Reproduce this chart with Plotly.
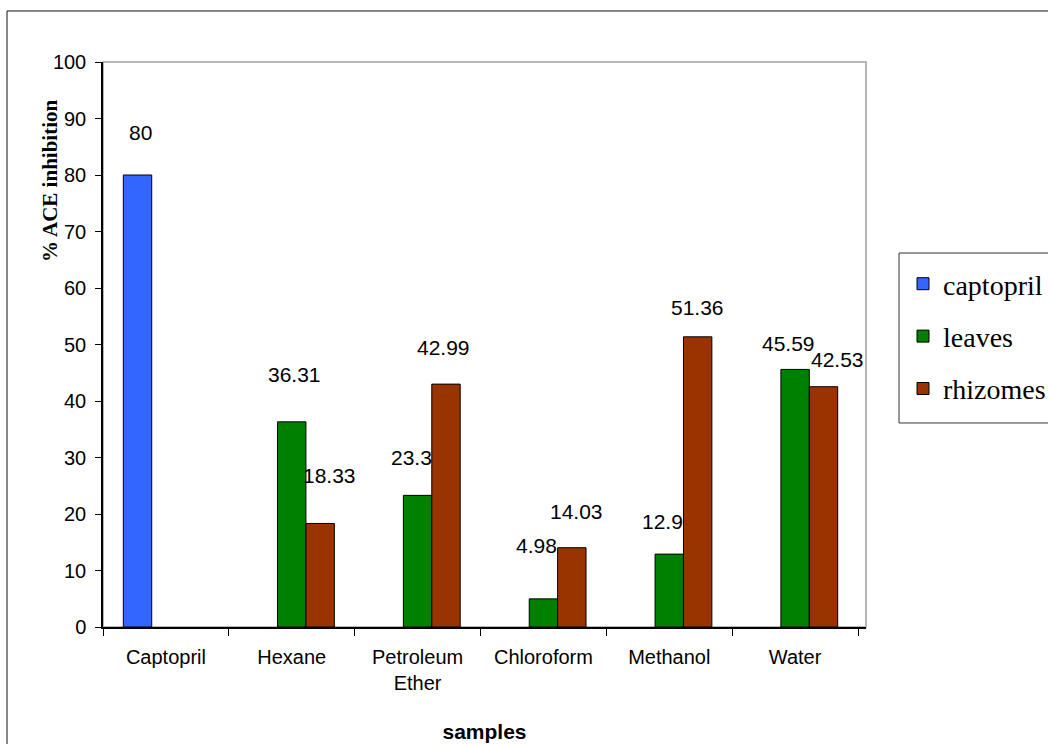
import plotly.graph_objects as go

# Samples and % ACE inhibition values
samples = ["Captopril", "Hexane", "Petroleum<br>Ether", "Chloroform", "Methanol", "Water"]
captopril = [80, None, None, None, None, None]
leaves = [None, 36.31, 23.3, 4.98, 12.9, 45.59]
rhizomes = [None, 18.33, 42.99, 14.03, 51.36, 42.53]

series = [
    ("captopril", captopril, "#3366FF"),
    ("leaves", leaves, "#008000"),
    ("rhizomes", rhizomes, "#993300"),
]

# Pixel nudges (dx, dy) for each value label, keyed by (series index, sample index)
label_nudge = {
    (0, 0): (3, 43),
    (1, 1): (3, 47), (2, 1): (9, 48),
    (1, 2): (-6, 38), (2, 2): (-2, 37),
    (1, 3): (-7, 53), (2, 3): (5, 36),
    (1, 4): (-7, 33), (2, 4): (0, 29),
    (1, 5): (-7, 26), (2, 5): (14, 27),
}

BARGAP = 0.323
SANS = "Liberation Sans, Arial, sans-serif"
SERIF = "Liberation Serif, Times New Roman, serif"
LABEL_FONT = dict(family=SANS, size=21, color="#000000")

fig = go.Figure()
for i, (name, vals, color) in enumerate(series):
    fig.add_trace(go.Bar(
        name=name,
        x=samples,
        y=vals,
        legendgroup=name,
        marker=dict(color=color, line=dict(color="#000000", width=1)),
    ))

# Value labels placed above each bar, centred on the bar's slot in its group
slot_w = (1 - BARGAP) / len(series)
annotations = []
for si, (name, vals, color) in enumerate(series):
    for ci, v in enumerate(vals):
        if v is None:
            continue
        dx, dy = label_nudge.get((si, ci), (0, 30))
        annotations.append(dict(
            x=ci + (si - (len(series) - 1) / 2) * slot_w,
            y=v,
            xref="x", yref="y",
            text=f"{v:g}",
            showarrow=False,
            xshift=dx, yshift=dy,
            xanchor="center", yanchor="middle",
            font=LABEL_FONT,
        ))

# Rotated y-axis title in the upper part of the axis
annotations.append(dict(
    x=-0.0695, y=0.791, xref="paper", yref="paper",
    xanchor="center", yanchor="middle",
    text="<b>% ACE inhibition</b>", textangle=-90, showarrow=False,
    font=dict(family=SERIF, size=21, color="#000000"),
))

shapes = [
    # grey plot-area frame (top and right sides visible)
    dict(type="rect", xref="paper", yref="paper", x0=0, y0=0, x1=1, y1=1,
         line=dict(color="#a0a0a0", width=1.5), layer="below"),
    # outer chart frame
    dict(type="rect", xref="paper", yref="paper", x0=-0.1258, y0=-0.23, x1=1.25, y1=1.0903,
         line=dict(color="#111111", width=1), layer="below"),
    # legend box
    dict(type="rect", xref="paper", yref="paper", x0=1.0433, y0=0.3611, x1=1.25, y1=0.6619,
         line=dict(color="#333333", width=1), fillcolor="#ffffff", layer="below"),
]

fig.update_layout(
    width=1048, height=744,
    margin=dict(l=103, r=182, t=62, b=117, autoexpand=False),
    paper_bgcolor="#ffffff", plot_bgcolor="#ffffff",
    barmode="group", bargap=BARGAP, bargroupgap=0,
    showlegend=True,
    legend=dict(
        x=1.0485, y=0.6513, xanchor="left", yanchor="top",
        borderwidth=0, bgcolor="rgba(0,0,0,0)",
        font=dict(family=SERIF, size=28, color="#000000"),
        traceorder="grouped", tracegroupgap=13,
    ),
    annotations=annotations,
    shapes=shapes,
    xaxis=dict(
        type="category",
        showline=True, linecolor="#000000", linewidth=1.5,
        ticks="outside", tickson="boundaries", ticklen=7, tickcolor="#000000",
        tickfont=dict(family=SANS, size=20, color="#000000"),
        ticklabelstandoff=11,
        showgrid=False, zeroline=False,
        title=dict(text="<b>samples</b>", standoff=32,
                   font=dict(family=SANS, size=21, color="#000000")),
    ),
    yaxis=dict(
        range=[0, 100], dtick=10, tick0=0,
        showline=True, linecolor="#000000", linewidth=1.5,
        ticks="outside", ticklen=6, tickcolor="#000000",
        tickfont=dict(family=SANS, size=20, color="#000000"),
        ticklabelstandoff=5,
        showgrid=False, zeroline=False,
    ),
)

fig.write_html("out.html")
